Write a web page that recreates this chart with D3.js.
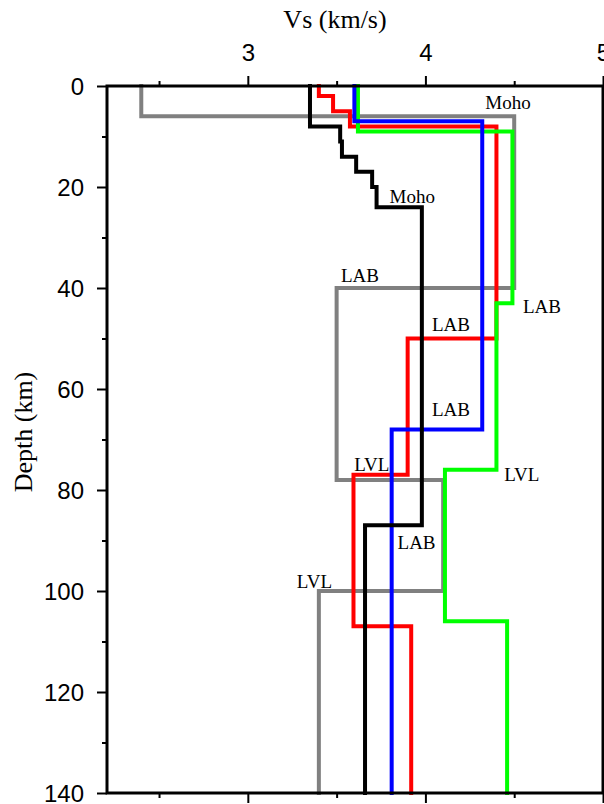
<!DOCTYPE html>
<html><head><meta charset="utf-8">
<script src="https://cdn.jsdelivr.net/npm/d3@7"></script>
<style>body{margin:0;background:#fff}svg{display:block}</style>
</head><body>
<svg id="c" width="604" height="804"></svg>
<script>
// Layer tops (km) and shear velocities (km/s) for each profile
const grayDepth  = [0, 6, 40, 78, 100];
const grayVs     = [2.40, 4.50, 3.50, 4.10, 3.40];
const redDepth   = [0, 2, 5, 8, 50, 77, 107];
const redVs      = [3.40, 3.48, 3.575, 4.40, 3.90, 3.595, 3.92];
const greenDepth = [0, 9, 43, 76, 106];
const greenVs    = [3.62, 4.49, 4.40, 4.11, 4.46];
const blueDepth  = [0, 7, 68];
const blueVs     = [3.60, 4.32, 3.81];
const blackDepth = [0, 8, 11, 14, 17, 20, 24, 87];
const blackVs    = [3.35, 3.52, 3.53, 3.61, 3.70, 3.725, 3.98, 3.66];
const maxDepth = 140;

const xTicks = [3, 4, 5];
const xMinor = [2.5, 3.5, 4.5];
const yTicks = [0, 20, 40, 60, 80, 100, 120, 140];
const yMinor = [10, 30, 50, 70, 90, 110, 130];

// annotations: text, Vs, depth (baseline-left anchor)
const labelText  = ["Moho", "Moho", "LAB", "LAB", "LAB", "LAB", "LVL", "LVL", "LAB", "LVL"];
const labelVs    = [4.337, 3.798, 3.524, 4.549, 4.037, 4.037, 3.599, 4.444, 3.843, 3.276];
const labelDepth = [4.6, 23.2, 38.9, 44.9, 48.6, 65.3, 76.2, 78.2, 91.6, 99.5];

const svg = d3.select("#c");
const L = 107, R = 603, T = 86, B = 793;
const x = d3.scaleLinear().domain([2.207, 5]).range([L, R]);
const y = d3.scaleLinear().domain([0, maxDepth]).range([T, B]);

function pts(depths, vs) {
  const p = [];
  depths.forEach((d, i) => {
    const bot = i < depths.length - 1 ? depths[i + 1] : maxDepth;
    p.push([vs[i], d], [vs[i], bot]);
  });
  return p;
}
const line = d3.line().x(d => x(d[0])).y(d => y(d[1]));

const series = [
  {d: grayDepth, v: grayVs, c: "#808080"},
  {d: redDepth, v: redVs, c: "#ff0000"},
  {d: greenDepth, v: greenVs, c: "#00ff00"},
  {d: blueDepth, v: blueVs, c: "#0000ff"},
  {d: blackDepth, v: blackVs, c: "#000000"}
];
svg.append("g").selectAll("path").data(series).join("path")
  .attr("d", s => line(pts(s.d, s.v)))
  .attr("fill", "none").attr("stroke", s => s.c)
  .attr("stroke-width", 4).attr("stroke-linejoin", "miter").attr("stroke-linecap", "square");

// labels
svg.append("g").selectAll("text").data(labelText).join("text")
  .attr("x", (t, i) => x(labelVs[i])).attr("y", (t, i) => y(labelDepth[i]))
  .attr("font-family", "'Liberation Serif', 'Times New Roman', serif")
  .attr("font-size", 19).attr("fill", "#000").text(t => t);

// axes
const font = "'Liberation Sans', Arial, sans-serif";
const gTop = svg.append("g").attr("transform", `translate(0,${T})`)
  .call(d3.axisTop(x).tickValues(xTicks).tickSize(10).tickPadding(15).tickFormat(d3.format("d")));
gTop.append("g").call(d3.axisTop(x).tickValues(xMinor).tickSize(5).tickFormat(""));
const gBot = svg.append("g").attr("transform", `translate(0,${B})`)
  .call(d3.axisBottom(x).tickValues(xTicks).tickSize(10).tickFormat(""));
gBot.append("g").call(d3.axisBottom(x).tickValues(xMinor).tickSize(5).tickFormat(""));
const gLeft = svg.append("g").attr("transform", `translate(${L},0)`)
  .call(d3.axisLeft(y).tickValues(yTicks).tickSize(10).tickPadding(13).tickFormat(d3.format("d")));
gLeft.append("g").call(d3.axisLeft(y).tickValues(yMinor).tickSize(5).tickFormat(""));
svg.selectAll(".domain").remove();
svg.selectAll(".tick line").attr("stroke", "#000").attr("stroke-width", 2);
svg.selectAll(".tick text").attr("font-family", font).attr("font-size", 24).attr("fill", "#000");
gLeft.selectAll(".tick text").attr("dy", "0.36em");

// frame
svg.append("rect").attr("x", L).attr("y", T).attr("width", R - L).attr("height", B - T)
  .attr("fill", "none").attr("stroke", "#000").attr("stroke-width", 3);

// titles
svg.append("text").attr("x", 335).attr("y", 28).attr("text-anchor", "middle")
  .attr("font-family", "'Liberation Serif', serif").attr("font-size", 26).text("Vs (km/s)");
svg.append("text").attr("transform", "translate(32,432) rotate(-90)").attr("text-anchor", "middle")
  .attr("font-family", "'Liberation Serif', serif").attr("font-size", 26).text("Depth (km)");
</script>
</body></html>
